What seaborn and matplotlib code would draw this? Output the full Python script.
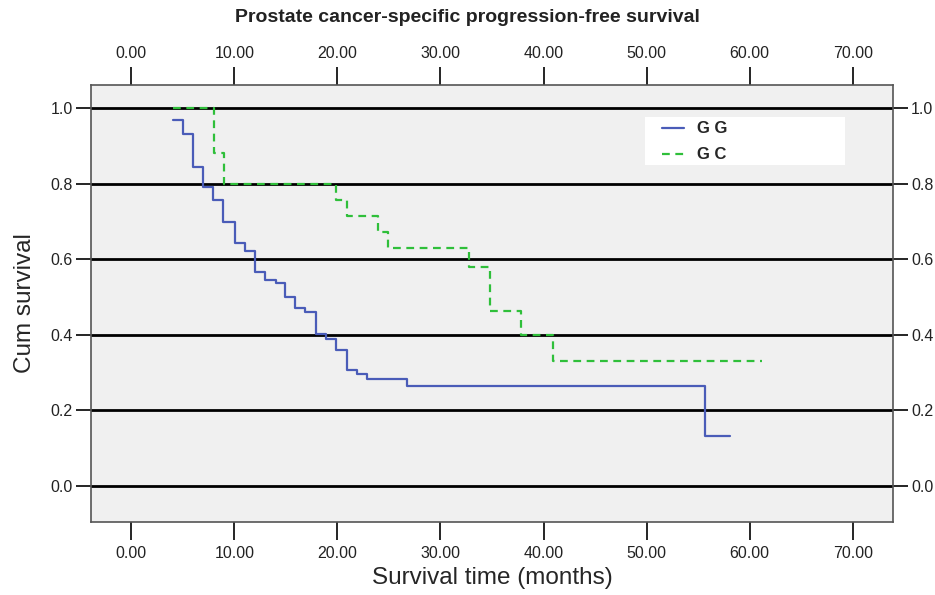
import numpy as np
import pandas as pd
import seaborn as sns
import matplotlib.pyplot as plt
from matplotlib.patches import Rectangle
from matplotlib.ticker import FormatStrFormatter

# Kaplan-Meier steps (time in months, cum survival)
gg_time = [4.07, 4.98, 5.98, 7.0, 7.9, 8.9, 10.1, 11.06, 12.03, 13.0, 14.0, 14.9,
           15.9, 16.9, 17.9, 18.9, 19.9, 20.9, 21.95, 22.9, 26.8, 55.7, 58.1]
gg_surv = [0.968, 0.931, 0.843, 0.792, 0.756, 0.699, 0.644, 0.622, 0.567, 0.545, 0.536, 0.499,
           0.470, 0.461, 0.402, 0.390, 0.360, 0.307, 0.296, 0.283, 0.265, 0.133, 0.133]
gc_time = [4.1, 8.0, 9.0, 19.9, 20.9, 23.9, 24.9, 32.8, 34.8, 37.8, 40.9, 61.2]
gc_surv = [1.0, 0.88, 0.80, 0.757, 0.714, 0.673, 0.631, 0.579, 0.464, 0.40, 0.331, 0.331]

x_ticks = [0, 10, 20, 30, 40, 50, 60, 70]
y_ticks = [0.0, 0.2, 0.4, 0.6, 0.8, 1.0]

sns.set_style("white")
plt.rcParams['font.family'] = ['Liberation Sans', 'DejaVu Sans']

fig = plt.figure(figsize=(9.35, 5.95), dpi=100)
ax = fig.add_axes([91 / 935, 1 - 522 / 595, (893 - 91) / 935, (522 - 85) / 595])
ax.set_facecolor('#f0f0f0')

for y in y_ticks:
    ax.axhline(y, color='black', lw=2, zorder=1)

gg = pd.DataFrame({'time': gg_time, 'surv': gg_surv})
gc = pd.DataFrame({'time': gc_time, 'surv': gc_surv})
sns.lineplot(data=gg, x='time', y='surv', estimator=None, drawstyle='steps-post',
             color='#4a5cb8', lw=1.6, ax=ax, zorder=3)
sns.lineplot(data=gc, x='time', y='surv', estimator=None, drawstyle='steps-post',
             color='#2fbf3a', lw=1.6, ls=(0, (3.5, 2.5)), ax=ax, zorder=3)

ax.set_xlim(-3.9, 73.9)
ax.set_ylim(-0.095, 1.061)
ax.set_xticks(x_ticks)
ax.set_yticks(y_ticks)
ax.xaxis.set_major_formatter(FormatStrFormatter('%.2f'))
ax.yaxis.set_major_formatter(FormatStrFormatter('%.1f'))
ax.tick_params(axis='both', direction='out', length=13, width=1.2, color='black',
               labelsize=11.5, labelcolor='#222222', top=True, labeltop=True, right=True,
               labelright=True, bottom=True, left=True, pad=4)
ax.tick_params(axis='y', length=11, pad=2)
for s in ax.spines.values():
    s.set_color('#555555')
    s.set_linewidth(1.2)

ax.set_xlabel('Survival time (months)', fontsize=17.5, va='center')
ax.xaxis.set_label_coords(0.5, -0.128)
ax.set_ylabel('Cum survival', fontsize=17.5, va='center')
ax.yaxis.set_label_coords(-0.082, 0.5)
fig.text(0.5, 0.97, 'Prostate cancer-specific progression-free survival', ha='center', va='center',
         fontsize=14, fontweight='bold', color='#222222')

# white legend box like the SPSS output
ax.add_patch(Rectangle((0.691, 0.817), 0.249, 0.110, transform=ax.transAxes,
                       facecolor='white', edgecolor='none', zorder=4))
leg = ax.legend(handles=ax.get_lines()[-2:], labels=['G G', 'G C'], loc='upper left',
                bbox_to_anchor=(0.705, 0.93), frameon=False, handlelength=1.6,
                handletextpad=0.9, labelspacing=0.75, borderaxespad=0)
leg.set_zorder(5)
for t in leg.get_texts():
    t.set_fontweight('bold')
    t.set_fontsize(12)

fig.savefig('out.png', dpi=100)
